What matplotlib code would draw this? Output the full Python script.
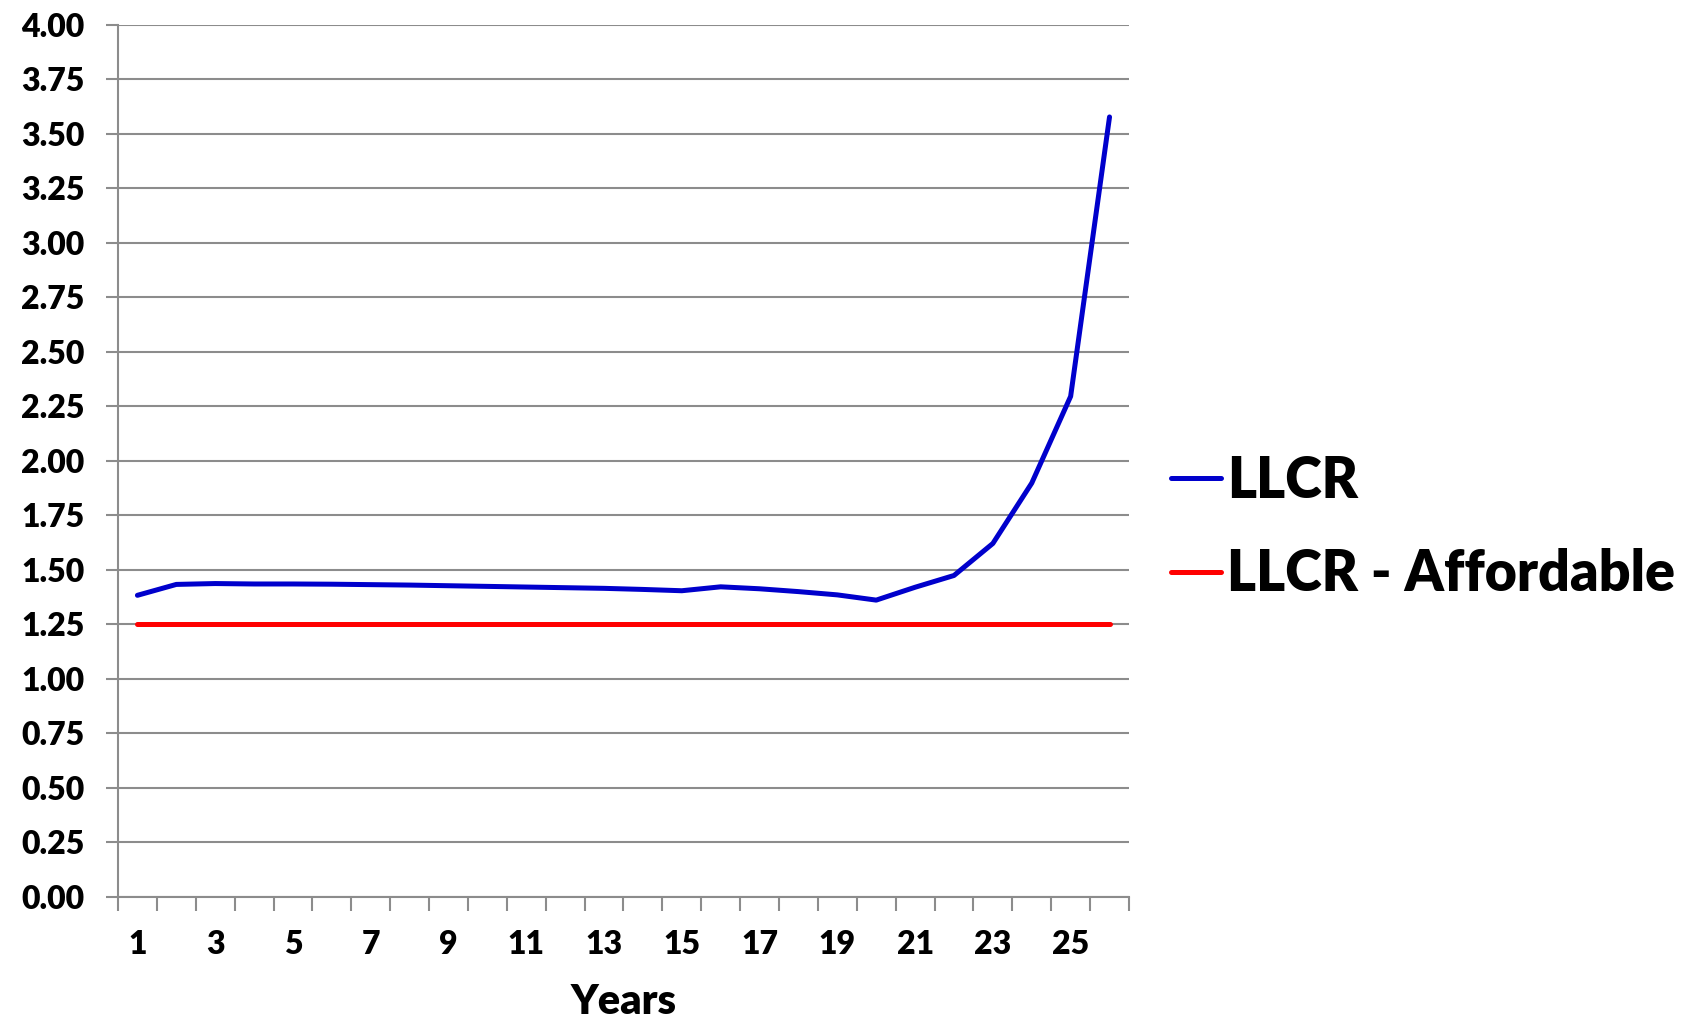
import matplotlib.pyplot as plt
from matplotlib.ticker import FixedLocator, FormatStrFormatter

# LLCR by project year
years = list(range(1, 27))
llcr = [1.383, 1.433, 1.437, 1.435, 1.435, 1.434, 1.432, 1.430, 1.427, 1.424,
        1.421, 1.418, 1.415, 1.410, 1.404, 1.422, 1.413, 1.400, 1.385, 1.361,
        1.420, 1.474, 1.621, 1.898, 2.296, 3.578]
llcr_affordable = [1.25] * len(years)

plt.rcParams['font.family'] = ['Lato', 'DejaVu Sans']
plt.rcParams['font.weight'] = 'heavy'

fig = plt.figure(figsize=(17, 10.24), dpi=100)
ax = fig.add_axes([0.0694, 0.1243, 0.5947, 0.8513])

grey = '#8c8c8c'
ax.plot(years, llcr, color='#0000cc', linewidth=3.6, label='LLCR',
        solid_capstyle='round', zorder=3)
ax.plot(years, llcr_affordable, color='#ff0000', linewidth=3.6,
        label='LLCR - Affordable', solid_capstyle='round', zorder=3)

ax.set_xlim(0.5, 26.5)
ax.set_ylim(0, 4)
ax.set_yticks([i * 0.25 for i in range(17)])
ax.yaxis.set_major_formatter(FormatStrFormatter('%.2f'))
ax.grid(axis='y', color=grey, linewidth=1.5)
ax.set_axisbelow(True)

# labels on odd years, tick marks between categories
ax.set_xticks(years[::2])
ax.xaxis.set_minor_locator(FixedLocator([y - 0.5 for y in years] + [26.5]))
ax.tick_params(axis='x', which='major', length=0, pad=24, labelsize=23)
ax.tick_params(axis='x', which='minor', length=10, width=1.5, color=grey)
ax.tick_params(axis='y', length=9, width=1.5, color=grey, pad=15, labelsize=23)

for side in ['top', 'right']:
    ax.spines[side].set_visible(False)
for side in ['left', 'bottom']:
    ax.spines[side].set_color(grey)
    ax.spines[side].set_linewidth(1.5)

ax.set_xlabel('Years', fontsize=30, fontweight='heavy', labelpad=17)

fig.legend(loc='center left', bbox_to_anchor=(0.689, 0.485), frameon=False,
           borderaxespad=0, borderpad=0, fontsize=40, handlelength=0.9,
           handletextpad=0.1, labelspacing=0.75)

plt.savefig('out.png', dpi=100)
